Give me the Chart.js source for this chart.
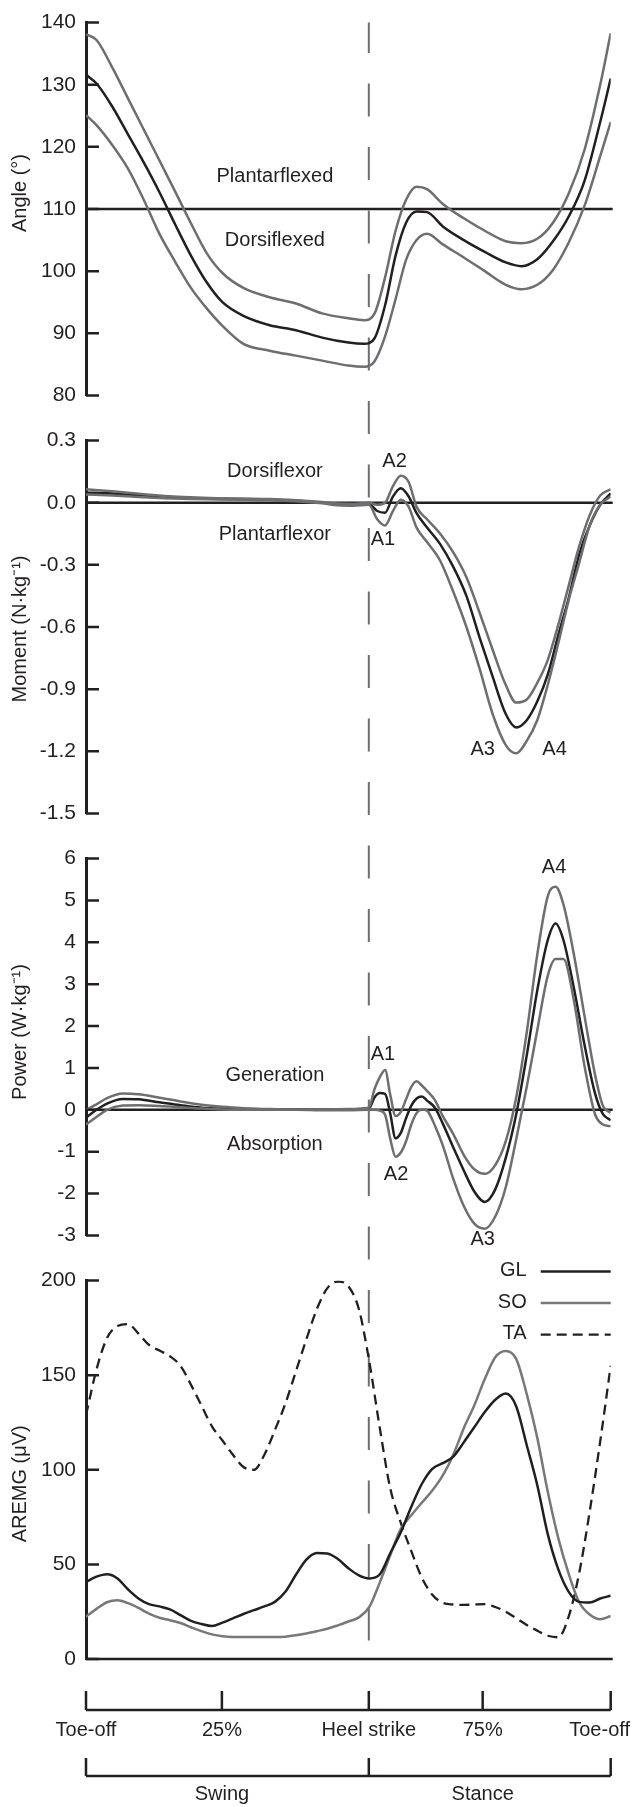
<!DOCTYPE html>
<html>
<head>
<meta charset="utf-8">
<script src="https://cdn.jsdelivr.net/npm/chart.js@4.4.1/dist/chart.umd.min.js"></script>
<style>
  html, body { margin: 0; padding: 0; background: #fff; }
  body { width: 635px; height: 1807px; position: relative; overflow: hidden; }
  .panel { position: absolute; left: 0; width: 635px; }
</style>
</head>
<body>
<div class="panel" style="top:0;height:418px"><canvas id="angleChart"></canvas></div>
<div class="panel" style="top:418px;height:418px"><canvas id="momentChart"></canvas></div>
<div class="panel" style="top:836px;height:422px"><canvas id="powerChart"></canvas></div>
<div class="panel" style="top:1258px;height:549px"><canvas id="emgChart"></canvas></div>
<script>
// gait cycle axis (% of cycle, starting at toe-off)
const heelStrike = 53.9;
const cycleTicks = [0, 25.9, 53.9, 75.6, 100];
const cycleLabels = ["Toe-off", "25%", "Heel strike", "75%", "Toe-off"];
const phaseBounds = [0, 53.9, 100];
const phaseLabelAt = [25.9, 75.6];
const phaseLabels = ["Swing", "Stance"];

const angleTicks = [80, 90, 100, 110, 120, 130, 140];
const momentTicks = [-1.5, -1.2, -0.9, -0.6, -0.3, 0, 0.3];
const powerTicks = [-3, -2, -1, 0, 1, 2, 3, 4, 5, 6];
const emgTicks = [0, 50, 100, 150, 200];

// 1. ankle angle (mean, +SD, -SD)
const angleX = [0, 2, 5, 8, 11, 14, 17, 20, 23, 26, 30, 35, 40, 45, 50, 53, 55, 57, 59, 61, 63, 65, 68, 72, 76, 80, 83, 86, 89, 92, 95, 98, 100];
const angleMean = [131.6, 130.2, 126.5, 122, 117.5, 112.7, 107.5, 102.5, 98.2, 95, 92.8, 91.3, 90.5, 89.3, 88.5, 88.3, 89.2, 94.5, 102.5, 107.8, 109.6, 109.5, 107.2, 105, 103.1, 101.4, 100.8, 101.9, 104.8, 108.8, 114.5, 124, 131];
const angleUpper = [138.1, 137.2, 132.8, 127.8, 122.8, 117.8, 112.8, 107.7, 102.9, 99.7, 97.3, 95.8, 94.8, 93.2, 92.4, 92.1, 93.2, 99, 106.5, 111.5, 113.6, 113.2, 110.8, 108.5, 106.5, 104.8, 104.5, 105.2, 107.8, 112.5, 119.5, 130, 138.3];
const angleLower = [125.1, 123.5, 120.3, 116.5, 111.5, 106, 101.5, 97.3, 94, 91.2, 88.3, 87.2, 86.4, 85.6, 84.8, 84.6, 85.5, 89.5, 95.5, 101.8, 105, 106, 104.3, 102.2, 100, 97.8, 97.1, 97.8, 100.2, 104.6, 110.5, 118.5, 124];

// 2. ankle moment
const momentX = [0, 5, 10, 15, 20, 25, 30, 35, 40, 45, 48, 51, 53.9, 55.5, 57, 58.5, 60, 61.5, 63, 65, 67.5, 70, 72.5, 75, 77.5, 80, 82, 84, 86, 88, 90, 92, 94, 96, 98, 100];
const momentMean = [0.05, 0.045, 0.035, 0.028, 0.022, 0.019, 0.017, 0.015, 0.01, 0, -0.008, -0.01, -0.005, -0.04, -0.048, 0.03, 0.07, 0.03, -0.05, -0.12, -0.2, -0.31, -0.45, -0.65, -0.84, -1.02, -1.085, -1.05, -0.96, -0.83, -0.64, -0.46, -0.25, -0.11, -0.01, 0.045];
const momentUpper = [0.065, 0.055, 0.043, 0.033, 0.026, 0.022, 0.02, 0.018, 0.012, 0.003, -0.004, -0.006, 0, -0.01, 0, 0.08, 0.13, 0.1, -0.02, -0.08, -0.15, -0.24, -0.36, -0.53, -0.71, -0.88, -0.965, -0.95, -0.87, -0.76, -0.59, -0.4, -0.21, -0.06, 0.035, 0.065];
const momentLower = [0.04, 0.035, 0.028, 0.022, 0.018, 0.016, 0.014, 0.012, 0.007, -0.003, -0.012, -0.014, -0.01, -0.08, -0.11, -0.04, 0.015, -0.02, -0.12, -0.19, -0.28, -0.43, -0.6, -0.8, -1.02, -1.17, -1.21, -1.15, -1.05, -0.88, -0.68, -0.47, -0.29, -0.11, -0.01, 0.03];

// 3. ankle power
const powerX = [0, 2, 4, 7, 10, 14, 18, 22, 26, 30, 35, 40, 45, 50, 53.9, 55, 56, 57, 58, 59, 60, 61, 62, 63, 64, 65, 66.5, 68, 70, 72, 74, 76, 78, 80, 82, 84, 86, 88, 89.5, 91, 93, 95, 97, 98.5, 100];
const powerMean = [-0.19, 0, 0.15, 0.26, 0.25, 0.18, 0.11, 0.05, 0.03, 0.02, 0.01, 0.01, 0, 0.01, 0.03, 0.3, 0.4, 0.38, -0.1, -0.68, -0.55, -0.2, 0.1, 0.27, 0.32, 0.22, 0.05, -0.33, -0.9, -1.45, -1.95, -2.2, -1.9, -1.15, -0.1, 1.3, 2.85, 4.05, 4.45, 4.05, 2.9, 1.56, 0.4, -0.1, -0.25];
const powerUpper = [0, 0.13, 0.28, 0.39, 0.37, 0.29, 0.2, 0.12, 0.07, 0.04, 0.02, 0.01, 0.01, 0.02, 0.05, 0.5, 0.78, 0.95, 0.35, -0.15, -0.05, 0.25, 0.55, 0.68, 0.58, 0.45, 0.23, -0.15, -0.58, -1.08, -1.42, -1.53, -1.32, -0.75, 0.3, 1.85, 3.7, 5.1, 5.33, 4.9, 3.7, 2.25, 0.85, 0.1, -0.07];
const powerLower = [-0.35, -0.17, 0, 0.1, 0.11, 0.09, 0.06, 0.03, 0.01, 0, 0, 0, -0.01, -0.01, 0, 0, -0.02, -0.12, -0.7, -1.12, -1.02, -0.75, -0.35, -0.08, 0.01, -0.02, -0.38, -0.85, -1.65, -2.3, -2.72, -2.84, -2.55, -1.85, -0.7, 0.55, 1.9, 3.2, 3.6, 3.6, 2.6, 1.05, -0.1, -0.35, -0.39];

// 4. AREMG
const emgX = [0, 2, 4, 6, 8, 10, 12, 14, 16, 18, 20, 22, 24, 26, 28, 30, 32, 34, 36, 38, 40, 42, 44, 46, 48, 50, 52, 54, 56, 58, 60, 62, 64, 66, 68, 70, 72, 74, 76, 78, 80, 82, 84, 86, 88, 90, 92, 94, 96, 98, 100];
const emgGL = [40.7, 43.5, 44.8, 42.6, 36.8, 32, 29, 27.8, 26.2, 23.2, 20.2, 18.5, 17.4, 19.2, 21.5, 23.8, 25.8, 27.8, 30.2, 35.5, 44.5, 52.5, 56, 55.8, 52.8, 48, 44.2, 42.6, 44.8, 56, 67, 80.5, 92.5, 100.5, 103.5, 107, 114.5, 122.5, 130.5, 137, 140.3, 133.5, 113, 92, 66, 47.5, 35.5, 30.2, 29.8, 32, 33.4];
const emgSO = [22.3, 26.5, 30, 31, 29.5, 27, 24, 21.8, 20.5, 19, 16.8, 14.7, 13, 12, 11.6, 11.6, 11.6, 11.6, 11.6, 11.8, 12.5, 13.5, 14.7, 16, 17.8, 19.8, 22, 27.5, 40.5, 55, 68.8, 76, 82.6, 89, 97, 108, 122, 134, 148, 159.5, 162.8, 158.5, 140, 117, 88.5, 64, 45, 30, 23.5, 21, 22.7];
const emgTA = [128.9, 153, 169.6, 176, 177, 172, 166, 163, 160, 155, 145, 134, 123, 115.5, 108, 101.5, 100, 108, 121, 135, 152, 169, 185, 196, 199.5, 197, 185, 157, 122, 90, 72, 57, 43, 34, 29.7, 28.8, 28.6, 28.8, 29, 27.5, 25, 21.5, 18, 15, 12.3, 11.5, 22.5, 45.5, 78, 115, 155];

const ink = "#231f20";
const grey = "#6d6e71";
const fontFamily = '"Liberation Sans", Arial, Helvetica, sans-serif';
Chart.defaults.font.family = fontFamily;
Chart.defaults.color = ink;

// reference line, heel strike dashes, inward ticks, axis title, notes, legend and the gait-cycle brackets
const gaitDecor = {
  id: "gaitDecor",
  beforeDatasetsDraw(chart, args, o) {
    const { ctx, chartArea: a, scales: { x, y } } = chart;
    const top = chart.canvas.parentNode.offsetTop;
    ctx.save();
    const ry = y.getPixelForValue(o.refLine);
    ctx.strokeStyle = ink;
    ctx.lineWidth = 2.5;
    ctx.beginPath();
    ctx.moveTo(a.left, ry);
    ctx.lineTo(a.right + 2, ry);
    ctx.stroke();

    const hx = x.getPixelForValue(heelStrike);
    const y0 = o.dashStart === "area" ? a.top : 0;
    const y1 = o.dashEnd === "area" ? a.bottom - 9 : chart.height;
    ctx.strokeStyle = grey;
    ctx.lineWidth = 2;
    ctx.setLineDash([33, 30.5]);
    ctx.lineDashOffset = top + y0 - 20; // keep one pattern running through every panel
    ctx.beginPath();
    ctx.moveTo(hx, y0);
    ctx.lineTo(hx, y1);
    ctx.stroke();
    ctx.restore();
  },
  afterDraw(chart, args, o) {
    const { ctx, chartArea: a, scales: { x, y } } = chart;
    ctx.save();
    ctx.strokeStyle = ink;
    ctx.lineWidth = 2.5;
    ctx.beginPath();
    y.ticks.forEach(t => {
      const py = y.getPixelForValue(t.value);
      ctx.moveTo(a.left, py);
      ctx.lineTo(a.left + 13, py);
    });
    ctx.stroke();

    ctx.fillStyle = ink;
    ctx.font = "20px " + fontFamily;
    ctx.textAlign = "center";
    ctx.textBaseline = "middle";

    // axis title, set a little off the axis middle as in the source figure
    ctx.save();
    ctx.translate(20.5, (a.top + a.bottom) / 2 + o.titleShift);
    ctx.rotate(-Math.PI / 2);
    ctx.fillText(o.title, 0, 0);
    ctx.restore();

    (o.notes || []).forEach(n => {
      ctx.fillText(n.text, x.getPixelForValue(n.x), y.getPixelForValue(n.y));
    });

    if (o.legend) {
      chart.data.datasets.forEach((ds, i) => {
        const ly = a.top - 10 + i * 31.5;
        ctx.textAlign = "right";
        ctx.fillText(ds.label, a.right - 84, ly);
        ctx.strokeStyle = ds.borderColor;
        ctx.lineWidth = ds.borderWidth;
        ctx.setLineDash(ds.borderDash || []);
        ctx.beginPath();
        ctx.moveTo(a.right - 70, ly + 1);
        ctx.lineTo(a.right, ly + 1);
        ctx.stroke();
      });
      ctx.setLineDash([]);
    }

    if (o.bracket) {
      const b1 = a.bottom + 51;
      const b2 = a.bottom + 117;
      ctx.strokeStyle = ink;
      ctx.lineWidth = 2.5;
      ctx.beginPath();
      ctx.moveTo(x.getPixelForValue(0), b1);
      ctx.lineTo(x.getPixelForValue(100), b1);
      cycleTicks.forEach(v => {
        const px = x.getPixelForValue(v);
        ctx.moveTo(px, b1 - 19);
        ctx.lineTo(px, b1);
      });
      ctx.moveTo(x.getPixelForValue(0), b2);
      ctx.lineTo(x.getPixelForValue(100), b2);
      phaseBounds.forEach(v => {
        const px = x.getPixelForValue(v);
        ctx.moveTo(px, b2 - 18);
        ctx.lineTo(px, b2);
      });
      ctx.stroke();
      ctx.textAlign = "center";
      cycleLabels.forEach((s, i) => {
        const w = ctx.measureText(s).width;
        const px = Math.min(x.getPixelForValue(cycleTicks[i]), chart.width - 5 - w / 2);
        ctx.fillText(s, px, b1 + 20);
      });
      phaseLabels.forEach((s, i) => {
        ctx.fillText(s, x.getPixelForValue(phaseLabelAt[i]), b2 + 18);
      });
    }
    ctx.restore();
  }
};

function line(label, data, color, extra) {
  return Object.assign({
    label: label,
    data: data,
    borderColor: color,
    borderWidth: 2.5,
    pointRadius: 0,
    fill: false,
    cubicInterpolationMode: "monotone",
  }, extra || {});
}

function options(cfg) {
  return {
    responsive: true,
    maintainAspectRatio: false,
    animation: false,
    events: [],
    layout: { padding: { top: cfg.padTop, bottom: cfg.padBottom, left: 0, right: 24.3 } },
    plugins: {
      legend: { display: false },
      tooltip: { enabled: false },
      gaitDecor: cfg.decor,
    },
    scales: {
      x: { type: "linear", min: 0, max: 100, display: false },
      y: {
        min: cfg.ticks[0],
        max: cfg.ticks[cfg.ticks.length - 1],
        afterFit: s => { s.width = 86; },
        afterBuildTicks: s => { s.ticks = cfg.ticks.map(v => ({ value: v })); },
        grid: { display: false, drawTicks: false },
        border: { display: true, color: ink, width: 3 },
        ticks: { padding: 10, color: ink, font: { size: 21 }, callback: cfg.fmt },
      },
    },
  };
}

// 1. Angle
new Chart(document.getElementById("angleChart"), {
  type: "line",
  data: {
    labels: angleX,
    datasets: [
      line("+SD", angleUpper, grey),
      line("-SD", angleLower, grey),
      line("Mean", angleMean, ink),
    ],
  },
  options: options({
    padTop: 20, padBottom: 16.7, ticks: angleTicks,
    fmt: v => String(v),
    decor: {
      refLine: 110, dashStart: "area", title: "Angle (°)", titleShift: -16,
      notes: [
        { text: "Plantarflexed", x: 36, y: 115.3 },
        { text: "Dorsiflexed", x: 36, y: 105 },
      ],
    },
  }),
  plugins: [gaitDecor],
});

// 2. Moment
new Chart(document.getElementById("momentChart"), {
  type: "line",
  data: {
    labels: momentX,
    datasets: [
      line("+SD", momentUpper, grey),
      line("-SD", momentLower, grey),
      line("Mean", momentMean, ink),
    ],
  },
  options: options({
    padTop: 17, padBottom: 19.7, ticks: momentTicks,
    fmt: v => v.toFixed(1),
    decor: {
      refLine: 0, title: "Moment (N·kg⁻¹)", titleShift: 2,
      notes: [
        { text: "Dorsiflexor", x: 36, y: 0.151 },
        { text: "Plantarflexor", x: 36, y: -0.155 },
        { text: "A2", x: 58.8, y: 0.198 },
        { text: "A1", x: 56.6, y: -0.179 },
        { text: "A3", x: 75.6, y: -1.19 },
        { text: "A4", x: 89.3, y: -1.19 },
      ],
    },
  }),
  plugins: [gaitDecor],
});

// 3. Power
new Chart(document.getElementById("powerChart"), {
  type: "line",
  data: {
    labels: powerX,
    datasets: [
      line("+SD", powerUpper, grey),
      line("-SD", powerLower, grey),
      line("Mean", powerMean, ink),
    ],
  },
  options: options({
    padTop: 20.7, padBottom: 20, ticks: powerTicks,
    fmt: v => String(v),
    decor: {
      refLine: 0, title: "Power (W·kg⁻¹)", titleShift: -15,
      notes: [
        { text: "Generation", x: 36, y: 0.81 },
        { text: "Absorption", x: 36, y: -0.82 },
        { text: "A1", x: 56.6, y: 1.31 },
        { text: "A2", x: 59.1, y: -1.55 },
        { text: "A3", x: 75.6, y: -3.1 },
        { text: "A4", x: 89.2, y: 5.78 },
      ],
    },
  }),
  plugins: [gaitDecor],
});

// 4. AREMG
new Chart(document.getElementById("emgChart"), {
  type: "line",
  data: {
    labels: emgX,
    datasets: [
      line("GL", emgGL, ink),
      line("SO", emgSO, "#77787b"),
      line("TA", emgTA, ink, { borderDash: [10, 6], borderWidth: 2.3 }),
    ],
  },
  options: options({
    padTop: 20.3, padBottom: 148, ticks: emgTicks,
    fmt: v => String(v),
    decor: {
      refLine: 0, dashEnd: "area", legend: true, bracket: true,
      title: "AREMG (μV)", titleShift: 14,
    },
  }),
  plugins: [gaitDecor],
});
</script>
</body>
</html>
